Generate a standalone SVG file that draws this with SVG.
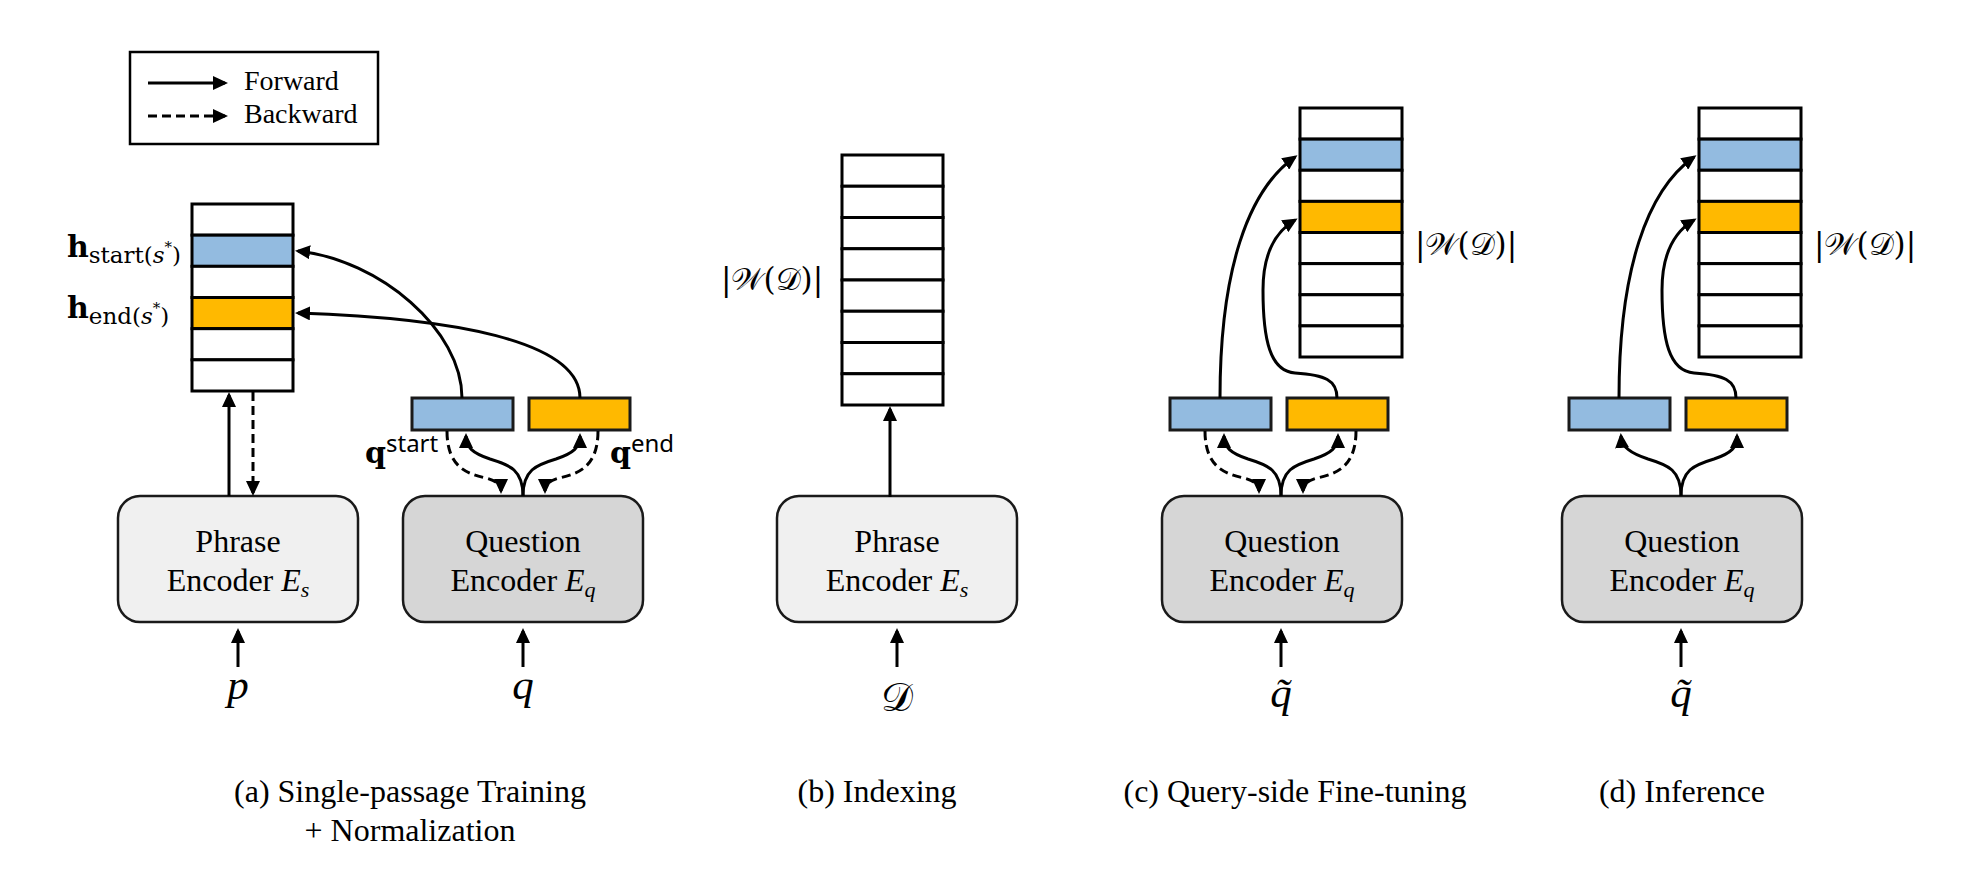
<svg xmlns="http://www.w3.org/2000/svg" width="1983" height="872" viewBox="0 0 1983 872">
<defs>
<marker id="ah" markerUnits="userSpaceOnUse" markerWidth="15" markerHeight="14" viewBox="0 0 15 14" refX="12" refY="7" orient="auto">
<path d="M0,0 L15,7 L0,14 z" fill="#000" stroke="none"/>
</marker>
<style>
.cell{fill:#fff;stroke:#000;stroke-width:3}
.blue{fill:#93bbe0;stroke:#000;stroke-width:3}
.org{fill:#ffb900;stroke:#000;stroke-width:3}
.qb{fill:#93bbe0;stroke:#1a1a1a;stroke-width:3}
.qo{fill:#ffb900;stroke:#1a1a1a;stroke-width:3}
.encp{fill:#f0f0f0;stroke:#1a1a1a;stroke-width:2.5}
.encq{fill:#d6d6d6;stroke:#1a1a1a;stroke-width:2.5}
.ln{fill:none;stroke:#000;stroke-width:3;marker-end:url(#ah)}
.dash{stroke-dasharray:9 5}
.t{font-family:"Liberation Serif","Times New Roman",serif;font-size:32px;fill:#000}
.cap{font-family:"Liberation Serif","Times New Roman",serif;font-size:32px;fill:#000;text-anchor:middle}
.lg{font-family:"Liberation Serif","Times New Roman",serif;font-size:28px;fill:#000}
.m{font-family:"DejaVu Serif","Liberation Serif",serif;fill:#000}
.mi{font-family:"Liberation Serif","Times New Roman",serif;font-style:italic;fill:#000;text-anchor:middle}
.cal{font-family:"DejaVu Serif","DejaVu Sans","Noto Sans",serif;fill:#000}
</style>
</defs>
<rect width="1983" height="872" fill="#fff"/>

<g id="legend">
<rect x="130" y="52" width="248" height="92" fill="#fff" stroke="#000" stroke-width="2.5"/>
<path class="ln" d="M148,83 L225,83"/>
<path class="ln dash" d="M148,116 L225,116"/>
<text class="lg" x="244" y="90">Forward</text>
<text class="lg" x="244" y="123">Backward</text>
</g>

<!-- (a) -->
<g id="stack-a">
<rect class="cell" x="192" y="204" width="101" height="31.17"/>
<rect class="blue" x="192" y="235.17" width="101" height="31.17"/>
<rect class="cell" x="192" y="266.33" width="101" height="31.17"/>
<rect class="org" x="192" y="297.5" width="101" height="31.17"/>
<rect class="cell" x="192" y="328.67" width="101" height="31.17"/>
<rect class="cell" x="192" y="359.83" width="101" height="31.17"/>
<text class="m" x="67" y="257" font-size="30"><tspan font-weight="bold">h</tspan><tspan font-size="23" dy="6">start(<tspan font-style="italic">s</tspan><tspan font-size="15" dy="-11">*</tspan><tspan dy="11">)</tspan></tspan></text>
<text class="m" x="67" y="318" font-size="30"><tspan font-weight="bold">h</tspan><tspan font-size="23" dy="6">end(<tspan font-style="italic">s</tspan><tspan font-size="15" dy="-11">*</tspan><tspan dy="11">)</tspan></tspan></text>
</g>
<g id="qvec-a">
<rect class="qb" x="412" y="398" width="101" height="32"/>
<rect class="qo" x="529" y="398" width="101" height="32"/>
<text class="m" x="365" y="463" font-size="30" font-weight="bold">q<tspan font-family="Noto Sans" font-weight="normal" font-size="24" dy="-11">start</tspan></text>
<text class="m" x="610" y="463" font-size="30" font-weight="bold">q<tspan font-family="Noto Sans" font-weight="normal" font-size="24" dy="-11">end</tspan></text>
</g>
<g id="phrase-enc-a">
<rect class="encp" x="118" y="496" width="240" height="126" rx="22"/>
<text class="t" x="238" y="552" text-anchor="middle">Phrase</text>
<text class="t" x="238" y="591" text-anchor="middle">Encoder <tspan font-style="italic">E</tspan><tspan font-style="italic" font-size="22" dy="6">s</tspan></text>
</g>
<g id="question-enc-a">
<rect class="encq" x="403" y="496" width="240" height="126" rx="22"/>
<text class="t" x="523" y="552" text-anchor="middle">Question</text>
<text class="t" x="523" y="591" text-anchor="middle">Encoder <tspan font-style="italic">E</tspan><tspan font-style="italic" font-size="22" dy="6">q</tspan></text>
</g>
<g id="input-a">
<text class="mi" x="238" y="699" font-size="43">p</text>
<text class="mi" x="523" y="699" font-size="43">q</text>
</g>
<g id="caption-a">
<text class="cap" x="410" y="802">(a) Single-passage Training</text>
<text class="cap" x="410" y="841">+ Normalization</text>
</g>

<!-- (b) -->
<g id="stack-b">
<rect class="cell" x="842" y="155" width="101" height="31.25"/>
<rect class="cell" x="842" y="186.25" width="101" height="31.25"/>
<rect class="cell" x="842" y="217.5" width="101" height="31.25"/>
<rect class="cell" x="842" y="248.75" width="101" height="31.25"/>
<rect class="cell" x="842" y="280" width="101" height="31.25"/>
<rect class="cell" x="842" y="311.25" width="101" height="31.25"/>
<rect class="cell" x="842" y="342.5" width="101" height="31.25"/>
<rect class="cell" x="842" y="373.75" width="101" height="31.25"/>
<text class="cal" x="721" y="290" font-size="31">|𝒲(𝒟)|</text>
</g>
<g id="phrase-enc-b">
<rect class="encp" x="777" y="496" width="240" height="126" rx="22"/>
<text class="t" x="897" y="552" text-anchor="middle">Phrase</text>
<text class="t" x="897" y="591" text-anchor="middle">Encoder <tspan font-style="italic">E</tspan><tspan font-style="italic" font-size="22" dy="6">s</tspan></text>
</g>
<g id="input-b">
<text class="cal" x="897" y="711" font-size="40" text-anchor="middle">𝒟</text>
</g>
<g id="caption-b">
<text class="cap" x="877" y="802">(b) Indexing</text>
</g>

<!-- (c) -->
<g id="stack-c">
<rect class="cell" x="1300" y="108" width="102" height="31.125"/>
<rect class="blue" x="1300" y="139.125" width="102" height="31.125"/>
<rect class="cell" x="1300" y="170.25" width="102" height="31.125"/>
<rect class="org" x="1300" y="201.375" width="102" height="31.125"/>
<rect class="cell" x="1300" y="232.5" width="102" height="31.125"/>
<rect class="cell" x="1300" y="263.625" width="102" height="31.125"/>
<rect class="cell" x="1300" y="294.75" width="102" height="31.125"/>
<rect class="cell" x="1300" y="325.875" width="102" height="31.125"/>
<text class="cal" x="1415" y="255" font-size="31">|𝒲(𝒟)|</text>
</g>
<g id="qvec-c">
<rect class="qb" x="1170" y="398" width="101" height="32"/>
<rect class="qo" x="1287" y="398" width="101" height="32"/>
</g>
<g id="question-enc-c">
<rect class="encq" x="1162" y="496" width="240" height="126" rx="22"/>
<text class="t" x="1282" y="552" text-anchor="middle">Question</text>
<text class="t" x="1282" y="591" text-anchor="middle">Encoder <tspan font-style="italic">E</tspan><tspan font-style="italic" font-size="22" dy="6">q</tspan></text>
</g>
<g id="input-c">
<text class="mi" x="1281" y="707" font-size="43">q̃</text>
</g>
<g id="caption-c">
<text class="cap" x="1295" y="802">(c) Query-side Fine-tuning</text>
</g>

<!-- (d) -->
<g id="stack-d">
<rect class="cell" x="1699" y="108" width="102" height="31.125"/>
<rect class="blue" x="1699" y="139.125" width="102" height="31.125"/>
<rect class="cell" x="1699" y="170.25" width="102" height="31.125"/>
<rect class="org" x="1699" y="201.375" width="102" height="31.125"/>
<rect class="cell" x="1699" y="232.5" width="102" height="31.125"/>
<rect class="cell" x="1699" y="263.625" width="102" height="31.125"/>
<rect class="cell" x="1699" y="294.75" width="102" height="31.125"/>
<rect class="cell" x="1699" y="325.875" width="102" height="31.125"/>
<text class="cal" x="1814" y="255" font-size="31">|𝒲(𝒟)|</text>
</g>
<g id="qvec-d">
<rect class="qb" x="1569" y="398" width="101" height="32"/>
<rect class="qo" x="1686" y="398" width="101" height="32"/>
</g>
<g id="question-enc-d">
<rect class="encq" x="1562" y="496" width="240" height="126" rx="22"/>
<text class="t" x="1682" y="552" text-anchor="middle">Question</text>
<text class="t" x="1682" y="591" text-anchor="middle">Encoder <tspan font-style="italic">E</tspan><tspan font-style="italic" font-size="22" dy="6">q</tspan></text>
</g>
<g id="input-d">
<text class="mi" x="1681" y="707" font-size="43">q̃</text>
</g>
<g id="caption-d">
<text class="cap" x="1682" y="802">(d) Inference</text>
</g>

<g id="connectors">
<!-- (a) -->
<path class="ln" d="M229,496 L229,395"/>
<path class="ln dash" d="M253,392 L253,493"/>
<path class="ln" d="M462,398 C462,330 380,260 298,251"/>
<path class="ln" d="M580,398 C580,340 450,318 298,313"/>
<path class="ln" d="M523,496 C523,470 510,465 490,459 C472,453 466,447 466,436"/>
<path class="ln" d="M523,496 C523,470 536,465 556,459 C574,453 580,447 580,436"/>
<path class="ln dash" d="M447,431 C447,468 468,474 486,478 C497,481 501,485 501,491"/>
<path class="ln dash" d="M598,431 C598,468 577,474 559,478 C548,481 545,485 545,491"/>
<path class="ln" d="M238,667 L238,631"/>
<path class="ln" d="M523,667 L523,631"/>
<!-- (b) -->
<path class="ln" d="M890,497 L890,409"/>
<path class="ln" d="M897,667 L897,631"/>
<!-- (c) -->
<path class="ln" d="M1220,398 C1220,270 1248,190 1295,157"/>
<path class="ln" d="M1337,398 C1337,380 1325,375 1295,373 C1270,371 1263,340 1263,290 C1263,255 1275,232 1295,220"/>
<path class="ln" d="M1281,496 C1281,470 1268,465 1248,459 C1230,453 1224,447 1224,436"/>
<path class="ln" d="M1281,496 C1281,470 1294,465 1314,459 C1332,453 1338,447 1338,436"/>
<path class="ln dash" d="M1205,431 C1205,468 1226,474 1244,478 C1255,481 1259,485 1259,491"/>
<path class="ln dash" d="M1356,431 C1356,468 1335,474 1317,478 C1306,481 1303,485 1303,491"/>
<path class="ln" d="M1281,667 L1281,631"/>
<!-- (d) -->
<path class="ln" d="M1619,398 C1619,270 1647,190 1694,157"/>
<path class="ln" d="M1736,398 C1736,380 1724,375 1694,373 C1669,371 1662,340 1662,290 C1662,255 1674,232 1694,220"/>
<path class="ln" d="M1681,496 C1681,470 1668,465 1648,459 C1630,453 1622,447 1621,436"/>
<path class="ln" d="M1681,496 C1681,470 1694,465 1714,459 C1732,453 1737,447 1737,436"/>
<path class="ln" d="M1681,667 L1681,631"/>
</g>
</svg>
